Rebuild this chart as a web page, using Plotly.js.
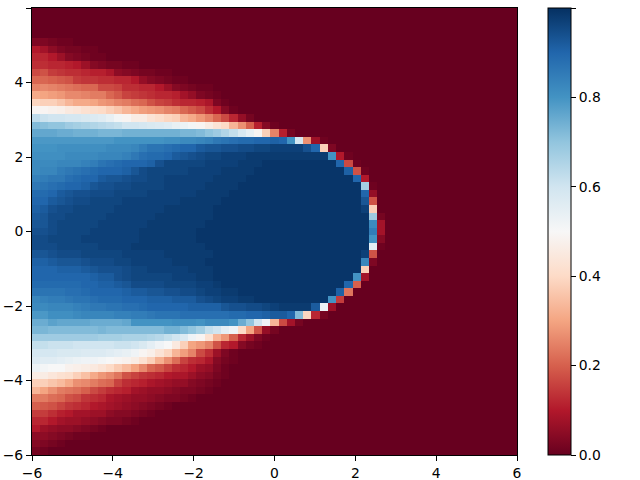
<!DOCTYPE html>
<html><head><meta charset="utf-8">
<script src="https://cdn.plot.ly/plotly-3.0.1.min.js"></script>
<style>html,body{margin:0;padding:0;background:#fff}</style></head>
<body><div id="chart" style="width:640px;height:480px"></div>
<script>
// Values in hundredths, one row per y from top (y=+6) to bottom (y=-6); omitted trailing cells are 0.
const r00=[],r01=[],r02=[],r03=[];
const r04=[3,3,2,1,1];
const r05=[10,8,5,3,2,2,1,1];
const r06=[12,12,10,7,4,3,2,1,1];
const r07=[13,13,12,12,11,10,7,4,3,2,2,1,1];
const r08=[17,18,15,14,13,13,12,11,11,9,5,4,3,2,2,1,1];
const r09=[21,21,20,19,18,15,14,14,13,13,12,12,10,6,4,3,2,1,1];
const r10=[25,26,25,24,23,22,21,21,17,17,16,13,13,12,12,10,7,4,3,2,1,1];
const r11=[31,30,29,28,26,26,25,24,24,21,19,16,15,14,13,12,12,11,8,6,3,2,1];
const r12=[39,38,38,36,33,31,31,30,28,27,25,24,22,21,18,16,15,13,12,12,11,9,3,1];
const r13=[49,49,48,47,45,44,42,41,40,38,36,33,31,29,28,27,25,24,21,19,17,13,10,4,1];
const r14=[63,61,60,60,59,59,58,57,56,54,51,49,46,46,43,41,39,38,33,31,28,25,21,17,12,6,2];
const r15=[72,71,70,70,68,67,66,65,64,63,62,60,60,59,58,57,56,54,53,51,49,46,43,40,33,27,20,11,4,1];
const r16=[76,76,76,75,75,74,74,74,73,73,73,74,74,74,74,74,74,74,73,73,72,70,68,65,62,58,54,49,38,25,11,2];
const r17=[79,79,79,79,79,79,79,79,79,79,80,80,80,80,80,80,81,81,82,82,83,84,86,87,88,89,89,90,90,91,90,80,59,27,7,1];
const r18=[80,80,80,81,81,81,81,81,81,82,82,82,83,85,87,87,88,89,90,90,92,93,93,94,94,95,95,96,96,97,97,97,97,94,90,38,3];
const r19=[81,81,81,81,82,82,82,82,83,83,83,84,86,88,89,89,90,92,93,94,95,96,96,97,97,97,98,98,98,98,98,98,98,98,98,98,80,10,1];
const r20=[82,82,82,83,83,83,84,85,87,88,89,90,90,90,91,94,96,96,96,96,96,97,97,97,97,98,98,98,99,99,99,99,99,99,99,99,99,90,17,1];
const r21=[82,83,83,85,86,87,88,89,90,90,90,91,93,95,96,96,96,96,96,97,97,97,97,98,98,98,98,99,99,99,99,99,99,99,99,99,99,99,91,18,1];
const r22=[84,85,86,86,88,89,90,90,92,93,93,94,95,95,96,96,97,97,97,97,97,97,98,98,98,98,99,99,99,99,99,99,99,99,99,99,99,99,99,90,10];
const r23=[86,87,88,89,90,90,91,93,94,94,95,95,96,96,96,96,97,97,97,97,97,98,98,98,98,99,99,99,99,99,99,99,99,99,99,99,99,99,99,99,67,1];
const r24=[89,89,90,92,93,94,94,95,95,95,96,96,96,96,97,97,97,97,97,97,98,98,98,98,99,99,99,99,99,99,99,99,99,99,99,99,99,99,99,99,90,6];
const r25=[90,90,92,93,94,95,95,96,96,96,96,97,97,97,97,97,97,97,98,98,98,98,98,99,99,99,99,99,99,99,99,99,99,99,99,99,99,99,99,99,93,18];
const r26=[91,92,94,95,95,96,96,96,96,96,97,97,97,97,97,97,98,98,98,98,98,98,99,99,99,99,99,99,99,99,99,99,99,99,99,99,99,99,99,99,97,38];
const r27=[92,93,95,95,96,96,96,96,96,97,97,97,97,97,97,98,98,98,98,98,98,98,99,99,99,99,99,99,99,99,99,99,99,99,99,99,99,99,99,99,99,68,2];
const r28=[93,93,95,96,96,96,96,96,97,97,97,97,97,97,98,98,98,98,98,98,98,99,99,99,99,99,99,99,99,99,99,99,99,99,99,99,99,99,99,99,99,82,8];
const r29=[94,94,95,96,96,96,96,97,97,97,97,97,97,98,98,98,98,98,98,98,99,99,99,99,99,99,99,99,99,99,99,99,99,99,99,99,99,99,99,99,99,85,8];
const r30=[95,95,96,96,96,96,97,97,97,97,97,97,97,98,98,98,98,98,98,98,99,99,99,99,99,99,99,99,99,99,99,99,99,99,99,99,99,99,99,99,99,80,4];
const r31=[95,95,95,96,96,96,96,96,97,97,97,97,98,98,98,98,98,98,98,98,98,99,99,99,99,99,99,99,99,99,99,99,99,99,99,99,99,99,99,99,99,55,1];
const r32=[93,93,94,95,95,95,96,96,96,96,96,97,97,97,97,97,98,98,98,98,98,98,99,99,99,99,99,99,99,99,99,99,99,99,99,99,99,99,99,99,97,18];
const r33=[91,91,92,93,93,93,94,95,95,95,96,96,97,97,97,97,97,98,98,98,98,99,99,99,99,99,99,99,99,99,99,99,99,99,99,99,99,99,99,99,83,3];
const r34=[90,90,90,91,91,91,92,93,94,94,94,95,96,96,97,97,97,97,97,98,98,98,99,99,99,99,99,99,99,99,99,99,99,99,99,99,99,99,99,99,38];
const r35=[90,90,90,90,90,90,90,91,92,92,94,95,96,96,96,96,96,97,97,97,98,98,99,99,99,99,99,99,99,99,99,99,99,99,99,99,99,99,99,80,8];
const r36=[89,89,89,89,89,89,90,90,91,91,92,93,95,95,95,95,96,96,96,96,97,97,98,99,99,99,99,99,99,99,99,99,99,99,99,99,99,99,90,20];
const r37=[87,87,87,87,88,88,89,90,90,90,90,91,92,92,93,93,94,94,95,95,96,97,97,98,98,99,99,99,99,99,99,99,99,99,99,99,99,91,23];
const r38=[83,84,85,85,86,87,87,88,89,89,89,90,90,90,91,91,91,92,92,92,94,95,96,97,97,98,98,99,99,99,99,99,99,99,99,99,80,15];
const r39=[82,82,83,83,83,84,85,86,86,87,87,88,88,89,90,90,90,90,90,91,91,91,91,93,94,94,95,95,96,97,98,98,98,98,92,53,7];
const r40=[79,79,81,81,81,82,83,83,83,83,84,84,85,85,86,87,87,87,88,88,88,88,88,88,89,89,90,90,91,92,92,90,72,39,12,2];
const r41=[75,75,77,76,76,76,76,75,75,75,75,76,80,80,80,80,80,81,81,81,80,82,82,82,80,75,70,60,52,33,17,8,2];
const r42=[73,73,72,72,72,72,72,72,73,72,72,72,72,72,72,72,74,74,72,70,67,62,60,55,52,40,30,18,6,2];
const r43=[68,68,68,68,68,68,68,68,67,67,67,66,66,66,65,64,62,60,57,52,49,42,33,28,20,12,7,3,1];
const r44=[62,62,61,61,61,60,60,60,60,60,61,61,60,58,55,52,50,45,38,30,28,25,18,12,10,4,2,1];
const r45=[59,59,59,58,58,58,57,57,57,56,55,54,52,49,47,43,39,33,29,25,17,13,7,3,1];
const r46=[57,56,56,55,54,53,52,52,51,50,49,48,46,42,38,32,27,22,16,13,12,9,4,2,1];
const r47=[53,51,50,50,48,47,46,45,43,40,37,34,30,26,21,19,16,13,12,10,7,6,3,1];
const r48=[46,46,44,42,41,38,35,31,28,26,23,18,16,14,13,12,10,9,9,7,5,4,2,1];
const r49=[38,38,36,34,31,27,26,24,22,21,16,13,12,11,9,8,7,6,6,4,3,2,1];
const r50=[33,30,27,24,23,22,20,17,15,13,12,11,8,7,6,6,5,4,3,3,2,1];
const r51=[24,24,22,21,18,17,14,13,12,9,8,7,6,6,5,4,3,3,2,1];
const r52=[20,19,18,16,14,13,12,10,9,8,7,6,5,4,3,2,1];
const r53=[15,15,13,11,10,8,8,7,7,5,4,4,3,2,1];
const r54=[12,12,10,8,7,7,6,5,4,3,3,2,1];
const r55=[10,7,6,5,5,4,3,2,1];
const r56=[5,5,4,3,2,1,1];
const r57=[4,3,2,1];
const r58=[2,1];
const rowsTopDown=[r00,r01,r02,r03,r04,r05,r06,r07,r08,r09,r10,r11,r12,r13,r14,r15,r16,r17,r18,r19,
 r20,r21,r22,r23,r24,r25,r26,r27,r28,r29,r30,r31,r32,r33,r34,r35,r36,r37,r38,r39,
 r40,r41,r42,r43,r44,r45,r46,r47,r48,r49,r50,r51,r52,r53,r54,r55,r56,r57,r58];
const nCols=59;
const xEdge0=-6, yEdge0=-6, cell=12/59;
const z=rowsTopDown.slice().reverse().map(r=>{
  const o=[];for(let i=0;i<nCols;i++)o.push((i<r.length?r[i]:0)/100);return o;});
const rdbu=[[0,'#67001f'],[0.1,'#b2182b'],[0.2,'#d6604d'],[0.3,'#f4a582'],[0.4,'#fddbc7'],[0.5,'#f7f7f7'],
 [0.6,'#d1e5f0'],[0.7,'#92c5de'],[0.8,'#4393c3'],[0.9,'#2166ac'],[1,'#053061']];
const font={family:'"DejaVu Sans",sans-serif',size:13.9,color:'#000'};
const axis={range:[-6,6],dtick:2,tick0:-6,ticks:'outside',ticklen:5,tickwidth:1,tickcolor:'#000',
 showline:true,linecolor:'#000',linewidth:1,mirror:true,showgrid:false,zeroline:false,tickfont:font};
Plotly.newPlot('chart',[{type:'heatmap',z:z,x0:xEdge0+cell/2,dx:cell,y0:yEdge0+cell/2,dy:cell,
 colorscale:rdbu,zmin:0,zmax:1,zsmooth:false,hoverinfo:'skip',
 colorbar:{x:1.064,xanchor:'left',y:0.5,yanchor:'middle',len:1,lenmode:'fraction',thickness:23,thicknessmode:'pixels',
  xpad:0,ypad:0,outlinecolor:'#000',outlinewidth:1,ticks:'outside',ticklen:5,tickwidth:1,tickcolor:'#000',
  tick0:0,dtick:0.2,tickformat:'.1f',tickfont:font}}],
 {width:640,height:480,margin:{l:32,r:123,t:7.5,b:25},paper_bgcolor:'#fff',plot_bgcolor:'#fff',font:font,
  xaxis:Object.assign({},axis),yaxis:Object.assign({},axis)},
 {displayModeBar:false,staticPlot:true});
</script></body></html>
